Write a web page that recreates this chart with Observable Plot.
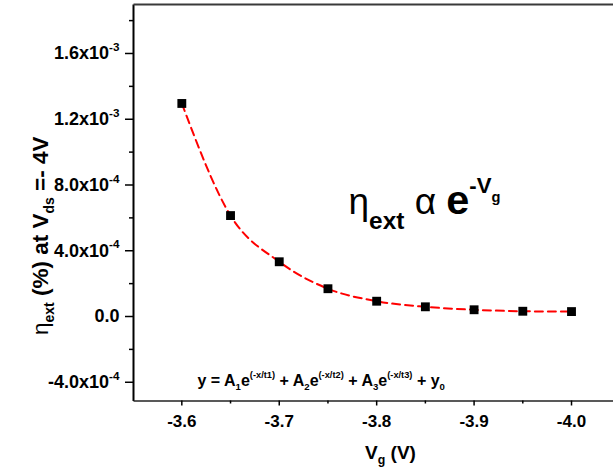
<!DOCTYPE html>
<html>
<head>
<meta charset="utf-8">
<script src="https://cdn.jsdelivr.net/npm/d3@7"></script>
<script src="https://cdn.jsdelivr.net/npm/@observablehq/plot@0.6"></script>
<style>
  html, body { margin: 0; padding: 0; background: #fff; overflow: hidden; }
  svg { display: block; }
</style>
</head>
<body>
<div id="chart"></div>
<script>
// ---- data ----
const vg  = [-3.6, -3.65, -3.7, -3.75, -3.8, -3.85, -3.9, -3.95, -4.0];
const eta = [1.296e-3, 6.14e-4, 3.33e-4, 1.69e-4, 0.93e-4, 0.59e-4, 0.41e-4, 0.32e-4, 0.30e-4];

const xTicks = [-3.6, -3.7, -3.8, -3.9, -4.0];
const xTickLabels = ["-3.6", "-3.7", "-3.8", "-3.9", "-4.0"];
const xMinorTicks = [-3.65, -3.75, -3.85, -3.95];

const yTicks = [-4e-4, 0, 4e-4, 8e-4, 1.2e-3, 1.6e-3];
const yTickLabels = ["-4.0x10^{-4}", "0.0", "4.0x10^{-4}", "8.0x10^{-4}", "1.2x10^{-3}", "1.6x10^{-3}"];
const yMinorTicks = [-2e-4, 2e-4, 6e-4, 1e-3, 1.4e-3, 1.8e-3];

const xLabel = "V_{g} (V)";
const yLabel = "!{η}_{ext} (%) at V_{ds} =- 4V";
const annotation = "!{η}_{ext} !{α} +{e}^{-V_{g}}";
const equation = "y = A_{1}e^{(-x/t1)} + A_{2}e^{(-x/t2)} + A_{3}e^{(-x/t3)} + y_{0}";

const xDomain = [-3.5504, -4.0431];
const yDomain = [-5.14e-4, 1.898e-3];

const data = vg.map((v, i) => ({vg: v, eta: eta[i]}));

// axis lines: left, bottom and top borders (no right border)
const borders = [
  {x1: xDomain[0], y1: yDomain[0], x2: xDomain[0], y2: yDomain[1], stroke: "#000", w: 2},
  {x1: xDomain[0], y1: yDomain[0], x2: xDomain[1], y2: yDomain[0], stroke: "#222", w: 1.6},
  {x1: xDomain[0], y1: yDomain[1], x2: xDomain[1], y2: yDomain[1], stroke: "#3a3a3a", w: 2.2}
];

const chart = Plot.plot({
  width: 613,
  height: 472,
  marginLeft: 133,
  marginRight: 0,
  marginTop: 4,
  marginBottom: 71.5,
  style: {fontFamily: "'Liberation Sans', Arial, sans-serif", fontWeight: "bold", color: "#000", background: "#fff"},
  x: {domain: xDomain, label: null},
  y: {domain: yDomain, label: null},
  marks: [
    ...borders.map((b) => Plot.link([b], {x1: "x1", y1: "y1", x2: "x2", y2: "y2", stroke: b.stroke, strokeWidth: b.w})),
    Plot.axisX(xTicks, {tickSize: 5, tickPadding: 9, fontSize: 17, strokeWidth: 1.5, stroke: "#000",
      tickFormat: (d) => xTickLabels[xTicks.indexOf(d)], label: null}),
    Plot.axisX(xMinorTicks, {tickSize: 3, strokeWidth: 1.5, stroke: "#000", tickFormat: () => "", label: null}),
    Plot.axisY(yTicks, {tickSize: 8, tickPadding: 6, fontSize: 18, strokeWidth: 1.5, stroke: "#000",
      tickFormat: (d) => yTickLabels[yTicks.indexOf(d)], label: null}),
    Plot.axisY(yMinorTicks, {tickSize: 4, strokeWidth: 1.5, stroke: "#000", tickFormat: () => "", label: null}),
    Plot.line(data, {x: "vg", y: "eta", curve: "monotone-x", stroke: "#ff0000", strokeWidth: 2, strokeDasharray: "8,5"}),
    Plot.dot(data, {x: "vg", y: "eta", symbol: "square", r: 5, fill: "#000", stroke: "none"}),
    Plot.text([yLabel], {text: (d) => d, frameAnchor: "left", rotate: -90, dx: -86, dy: 33,
      textAnchor: "middle", lineAnchor: "bottom", fontSize: 22.5}),
    Plot.text([xLabel], {text: (d) => d, frameAnchor: "bottom", dx: 17, dy: 57.5,
      textAnchor: "middle", lineAnchor: "bottom", fontSize: 19}),
    Plot.text([annotation], {text: (d) => d, frameAnchor: "top-left", dx: 215, dy: 209,
      textAnchor: "start", lineAnchor: "bottom", fontSize: 37}),
    Plot.text([equation], {text: (d) => d, frameAnchor: "top-left", dx: 64, dy: 381,
      textAnchor: "start", lineAnchor: "bottom", fontSize: 16})
  ]
});

document.getElementById("chart").appendChild(chart);

// ---- rich text (sub/superscripts) ----
const richParams = {
  default: {supScale: 0.65, supRaise: 0.45, subScale: 0.65, subDrop: 0.3, big: 1.15},
};
richParams[yLabel] = {supScale: 0.62, supRaise: 0.45, subScale: 0.62, subDrop: 0.3, big: 1};
richParams[xLabel] = {supScale: 0.62, supRaise: 0.45, subScale: 0.65, subDrop: 0.3, big: 1};
richParams[annotation] = {supScale: 0.6, supRaise: 0.56, subScale: 0.66, subDrop: 0.42, big: 1.12};
richParams[equation] = {supScale: 0.58, supRaise: 0.45, subScale: 0.6, subDrop: 0.3, big: 1};

function parseRich(s, ctx, p, out) {
  let i = 0, buf = "";
  const flush = () => { if (buf) { out.push({text: buf, ...ctx}); buf = ""; } };
  while (i < s.length) {
    const c = s[i];
    if ("^_!+".includes(c) && s[i + 1] === "{") {
      let depth = 1, j = i + 2;
      while (j < s.length && depth > 0) { if (s[j] === "{") depth++; else if (s[j] === "}") depth--; j++; }
      const inner = s.slice(i + 2, j - 1);
      flush();
      let nctx = {...ctx};
      if (c === "^") nctx = {...ctx, size: ctx.size * p.supScale, shift: ctx.shift - ctx.size * p.supRaise};
      else if (c === "_") nctx = {...ctx, size: ctx.size * p.subScale, shift: ctx.shift + ctx.size * p.subDrop};
      else if (c === "!") nctx = {...ctx, weight: "normal"};
      else if (c === "+") nctx = {...ctx, size: ctx.size * p.big};
      parseRich(inner, nctx, p, out);
      i = j;
    } else { buf += c; i++; }
  }
  flush();
}

chart.querySelectorAll("text").forEach((el) => {
  const s = el.textContent;
  if (!/[\^_!+]\{/.test(s)) return;
  const p = richParams[s] || richParams.default;
  const fs = parseFloat(getComputedStyle(el).fontSize);
  const runs = [];
  parseRich(s, {size: fs, shift: 0, weight: null}, p, runs);
  while (el.firstChild) el.removeChild(el.firstChild);
  let offset = 0;
  for (const r of runs) {
    const t = document.createElementNS("http://www.w3.org/2000/svg", "tspan");
    t.textContent = r.text;
    t.setAttribute("font-size", r.size);
    if (r.weight) t.setAttribute("font-weight", r.weight);
    const d = r.shift - offset;
    if (d !== 0) t.setAttribute("dy", d);
    offset = r.shift;
    el.appendChild(t);
  }
});
</script>
</body>
</html>
